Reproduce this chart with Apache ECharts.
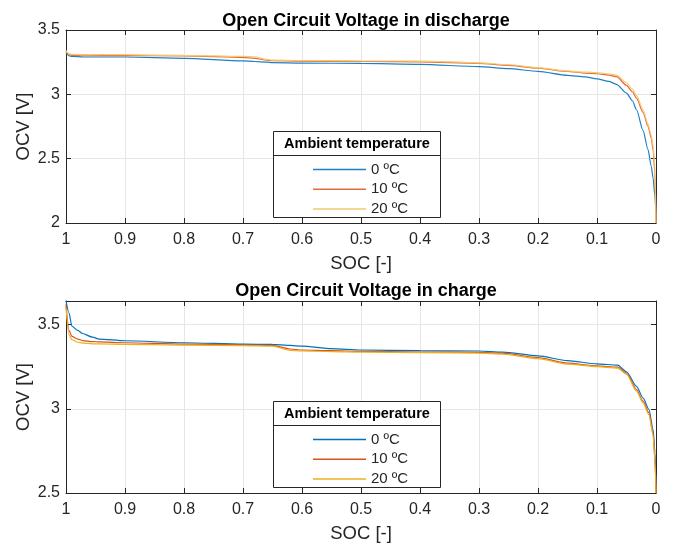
<!DOCTYPE html>
<html>
<head>
<meta charset="utf-8">
<script src="https://cdn.jsdelivr.net/npm/echarts@6/dist/echarts.min.js"></script>
<style>
html,body{margin:0;padding:0;background:#fff;}
#chart{width:675px;height:545px;}
</style>
</head>
<body>
<div id="chart"></div>
<script>
// ---- Data ----
const seriesNames = ['0 ºC', '10 ºC', '20 ºC'];

// Discharge (top plot)
const socDischarge = [1, 0.995, 0.99, 0.97, 0.9, 0.8, 0.7, 0.68, 0.66, 0.65, 0.6, 0.5, 0.4, 0.3, 0.25, 0.2, 0.15, 0.12, 0.1, 0.08, 0.067, 0.05, 0.04, 0.033, 0.022, 0.0135, 0.008, 0.005, 0.002, 0];
const ocvDischarge0 = [3.325, 3.30, 3.295, 3.29, 3.29, 3.28, 3.26, 3.255, 3.25, 3.246, 3.243, 3.24, 3.233, 3.215, 3.20, 3.178, 3.147, 3.135, 3.12, 3.10, 3.078, 3.01, 2.95, 2.88, 2.72, 2.57, 2.44, 2.35, 2.22, 2.05];
const ocvDischarge10 = [3.335, 3.31, 3.303, 3.30, 3.302, 3.298, 3.287, 3.28, 3.265, 3.261, 3.258, 3.255, 3.252, 3.24, 3.225, 3.203, 3.178, 3.165, 3.16, 3.15, 3.137, 3.07, 3.02, 2.97, 2.86, 2.75, 2.66, 2.57, 2.40, 2.0];
const ocvDischarge20 = [3.34, 3.315, 3.31, 3.308, 3.308, 3.303, 3.295, 3.292, 3.272, 3.266, 3.263, 3.26, 3.258, 3.245, 3.23, 3.207, 3.182, 3.172, 3.168, 3.16, 3.15, 3.09, 3.04, 2.99, 2.88, 2.77, 2.68, 2.60, 2.45, 2.0];

// Charge (bottom plot)
const socCharge = [1, 0.995, 0.99, 0.98, 0.972, 0.955, 0.944, 0.9, 0.8, 0.7, 0.65, 0.62, 0.6, 0.55, 0.5, 0.4, 0.3, 0.26, 0.2, 0.15, 0.1, 0.065, 0.05, 0.033, 0.022, 0.012, 0.005, 0.0017, 0];
const ocvCharge0 = [3.643, 3.57, 3.49, 3.465, 3.447, 3.425, 3.414, 3.404, 3.392, 3.384, 3.382, 3.376, 3.372, 3.357, 3.349, 3.345, 3.343, 3.337, 3.314, 3.286, 3.267, 3.259, 3.22, 3.133, 3.065, 2.996, 2.878, 2.74, 2.52];
const ocvCharge10 = [3.62, 3.466, 3.43, 3.414, 3.405, 3.399, 3.397, 3.392, 3.384, 3.38, 3.377, 3.355, 3.349, 3.345, 3.341, 3.337, 3.335, 3.33, 3.304, 3.271, 3.255, 3.247, 3.212, 3.114, 3.045, 2.976, 2.858, 2.70, 2.5];
const ocvCharge20 = [3.60, 3.44, 3.41, 3.395, 3.39, 3.386, 3.385, 3.383, 3.378, 3.375, 3.372, 3.347, 3.343, 3.34, 3.337, 3.333, 3.33, 3.325, 3.298, 3.265, 3.25, 3.242, 3.205, 3.105, 3.035, 2.965, 2.845, 2.69, 2.5];

const xTicks = [1, 0.9, 0.8, 0.7, 0.6, 0.5, 0.4, 0.3, 0.2, 0.1, 0];
const yTicksTop = [2, 2.5, 3, 3.5];
const yTicksBottom = [2.5, 3, 3.5];

// ---- Styles ----
const FONT = "'Liberation Sans', Arial, Helvetica, sans-serif";
const AX = '#262626';
const GRID = '#e6e6e6';
const colorsTop = ['#1f80c4', '#e36a40', '#f5c96c'];
const colorsBottom = ['#0072BD', '#D95319', '#EDB120'];

const zip = (xs, ys) => xs.map((x, i) => [x, ys[i]]);

const grids = [
  { left: 66, right: 19, top: 30, height: 193 },
  { left: 66, right: 19, top: 301, height: 192 }
];

function mainX(gi) {
  return {
    type: 'value', gridIndex: gi, min: 0, max: 1, interval: 0.1, inverse: true,
    name: 'SOC [-]', nameLocation: 'middle', nameGap: 31,
    nameTextStyle: { fontFamily: FONT, fontSize: 18.5, color: AX },
    axisLine: { show: true, onZero: false, lineStyle: { color: AX, width: 1 } },
    axisTick: { show: true, inside: true, length: 5, lineStyle: { color: AX } },
    axisLabel: { fontFamily: FONT, fontSize: 16, color: AX, margin: 9,
      formatter: v => (xTicks.some(t => Math.abs(t - v) < 1e-6) ? String(Math.round(v * 10) / 10) : '') },
    splitLine: { show: true, lineStyle: { color: GRID, width: 1 } }
  };
}
function boxX(gi) {
  return {
    type: 'value', gridIndex: gi, min: 0, max: 1, interval: 0.1, inverse: true, position: 'top',
    axisLine: { show: true, onZero: false, lineStyle: { color: AX, width: 1 } },
    axisTick: { show: true, inside: true, length: 5, lineStyle: { color: AX } },
    axisLabel: { show: false }, splitLine: { show: false }
  };
}
function mainY(gi, min, max, ticks) {
  return {
    type: 'value', gridIndex: gi, min: min, max: max, interval: 0.5,
    name: 'OCV [V]', nameLocation: 'middle', nameGap: 33, nameMoveOverlap: false,
    nameTextStyle: { fontFamily: FONT, fontSize: 18.5, color: AX },
    axisLine: { show: true, onZero: false, lineStyle: { color: AX, width: 1 } },
    axisTick: { show: true, inside: true, length: 5, lineStyle: { color: AX } },
    axisLabel: { fontFamily: FONT, fontSize: 16, color: AX, margin: 6, showMaxLabel: true,
      formatter: v => (ticks.some(t => Math.abs(t - v) < 1e-6) ? String(Math.round(v * 10) / 10) : '') },
    splitLine: { show: true, lineStyle: { color: GRID, width: 1 } }
  };
}
function boxY(gi, min, max) {
  return {
    type: 'value', gridIndex: gi, min: min, max: max, interval: 0.5, position: 'right',
    axisLine: { show: true, onZero: false, lineStyle: { color: AX, width: 1 } },
    axisTick: { show: true, inside: true, length: 5, lineStyle: { color: AX } },
    axisLabel: { show: false }, splitLine: { show: false }
  };
}

function mkSeries(name, xi, yi, xs, ys, color) {
  return {
    name: name, type: 'line', xAxisIndex: xi, yAxisIndex: yi,
    data: zip(xs, ys), showSymbol: false, symbol: 'none',
    smooth: 0.25, smoothMonotone: 'x',
    lineStyle: { color: color, width: 1.2 }, itemStyle: { color: color },
    animation: false, z: 2
  };
}

const series = [
  mkSeries(seriesNames[0], 0, 0, socDischarge, ocvDischarge0, colorsTop[0]),
  mkSeries(seriesNames[1], 0, 0, socDischarge, ocvDischarge10, colorsTop[1]),
  mkSeries(seriesNames[2], 0, 0, socDischarge, ocvDischarge20, colorsTop[2]),
  mkSeries(seriesNames[0], 2, 2, socCharge, ocvCharge0, colorsBottom[0]),
  mkSeries(seriesNames[1], 2, 2, socCharge, ocvCharge10, colorsBottom[1]),
  mkSeries(seriesNames[2], 2, 2, socCharge, ocvCharge20, colorsBottom[2])
];

function mkLegend(top, colors) {
  return {
    orient: 'vertical', left: 313, top: top, padding: 0,
    itemWidth: 53, itemHeight: 1.5, itemGap: 4.7, selectedMode: false,
    icon: 'rect',
    data: seriesNames.map((n, i) => ({ name: n, icon: 'rect',
      itemStyle: { color: colors[i], borderWidth: 0 } })),
    textStyle: { fontFamily: FONT, fontSize: 15, lineHeight: 15, color: AX },
    z: 10
  };
}

function legendBox(y0) {
  return [
    { type: 'rect', z: 5, shape: { x: 273.5, y: y0 + 0.5, width: 167, height: 86 },
      style: { fill: '#fff', stroke: AX, lineWidth: 1 } },
    { type: 'line', z: 6, shape: { x1: 273.5, y1: y0 + 24.5, x2: 440.5, y2: y0 + 24.5 },
      style: { stroke: AX, lineWidth: 1 } },
    { type: 'text', z: 6, x: 357, y: y0 + 13, style: { text: 'Ambient temperature', fill: '#000',
      font: "bold 14.5px " + FONT, textAlign: 'center', textVerticalAlign: 'middle' } }
  ];
}

const option = {
  backgroundColor: '#fff',
  animation: false,
  title: [
    { text: 'Open Circuit Voltage in discharge', left: 361, top: 7, textAlign: 'center',
      textStyle: { fontFamily: FONT, fontSize: 18, fontWeight: 'bold', color: '#000' } },
    { text: 'Open Circuit Voltage in charge', left: 361, top: 277, textAlign: 'center',
      textStyle: { fontFamily: FONT, fontSize: 18, fontWeight: 'bold', color: '#000' } }
  ],
  grid: grids,
  xAxis: [mainX(0), boxX(0), mainX(1), boxX(1)],
  yAxis: [mainY(0, 2, 3.5, yTicksTop), boxY(0, 2, 3.5), mainY(1, 2.5, 3.64, yTicksBottom), boxY(1, 2.5, 3.64)],
  legend: [mkLegend(162, colorsTop), mkLegend(432, colorsBottom)],
  graphic: [...legendBox(131), ...legendBox(401)],
  series: series
};

const chart = echarts.init(document.getElementById('chart'), null, { renderer: 'canvas' });
chart.setOption(option);
</script>
</body>
</html>
